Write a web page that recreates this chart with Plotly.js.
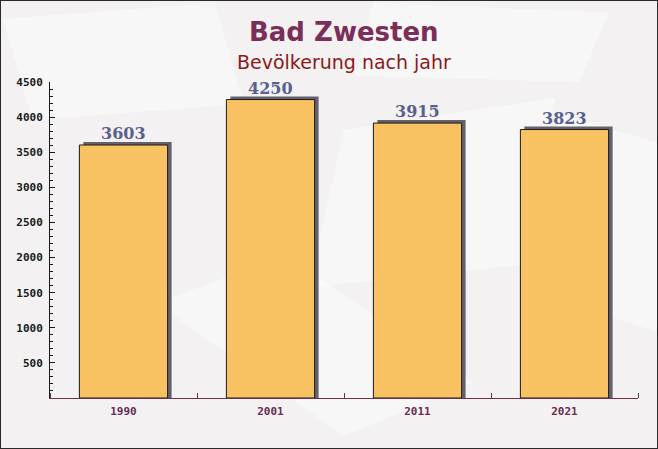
<!DOCTYPE html>
<html>
<head>
<meta charset="utf-8">
<script src="https://cdn.plot.ly/plotly-3.0.1.min.js"></script>
<style>
html,body{margin:0;padding:0;background:#f3f1f1;}
#wrap{width:658px;height:449px;box-sizing:border-box;border:1px solid #2a2a2a;background:#f3f1f1;}
#chart{width:656px;height:447px;}
</style>
</head>
<body>
<div id="wrap"><div id="chart"></div></div>
<script>
// Data
const categories = ["1990", "2001", "2011", "2021"];
const population = [3603, 4250, 3915, 3823];
const yTickValues = [500, 1000, 1500, 2000, 2500, 3000, 3500, 4000, 4500];
const yTickLabels = ["500", "1000", "1500", "2000", "2500", "3000", "3500", "4000", "4500"];
const titleText = "Bad Zwesten";
const subtitleText = "Bevölkerung nach jahr";

const plotHeightPx = 316, yMax = 4500;
const unitsPerPx = yMax / plotHeightPx;
const barWidth = 0.6;
const catPx = 147;
const shadowDx = 4 / catPx;      // horizontal shadow offset in category units
const shadowDy = 3 * unitsPerPx; // vertical shadow offset in data units
const idx = categories.map((c, i) => i);

const shadow = {
  type: 'bar',
  x: idx,
  y: population.map(v => v + shadowDy),
  width: barWidth,
  offset: -barWidth / 2 + shadowDx,
  marker: {color: '#64616c', line: {width: 0}},
  hoverinfo: 'skip',
  showlegend: false
};
const bars = {
  type: 'bar',
  x: idx,
  y: population,
  width: barWidth,
  marker: {color: '#f8c263', line: {color: '#1a1a1a', width: 1}},
  showlegend: false
};

const annotations = idx.map(i => ({
  x: i, y: population[i] + shadowDy, xref: 'x', yref: 'y',
  text: String(population[i]), showarrow: false,
  yanchor: 'bottom', yshift: -3,
  font: {family: 'DejaVu Serif', size: 16, color: '#58608f', weight: 700}
}));
annotations.push({
  x: 0.5, y: (316 - (31 - 81)) / 316, xref: 'paper', yref: 'paper',
  text: '<b>' + titleText + '</b>', showarrow: false, xanchor: 'center', yanchor: 'middle',
  font: {family: 'DejaVu Sans', size: 26, color: '#7b2e57'}
});
annotations.push({
  x: 0.5, y: (316 - (61 - 81)) / 316, xref: 'paper', yref: 'paper',
  text: subtitleText, showarrow: false, xanchor: 'center', yanchor: 'middle',
  font: {family: 'DejaVu Sans', size: 19, color: '#8b1a1a'}
});

// faint decorative background panels (paper coordinates)
const deco = [
  'M -0.08 1.2 L 0.28 1.25 L 0.33 0.93 L -0.03 0.88 Z',
  'M 0.5 0.85 L 0.86 0.95 L 0.8 0.42 L 0.44 0.35 Z',
  'M 0.18 0.3 L 0.5 -0.12 L 0.72 0.05 L 0.4 0.45 Z',
  'M 0.86 0.9 L 1.05 0.8 L 1.05 0.2 L 0.88 0.3 Z',
  'M 0.55 1.25 L 0.95 1.22 L 0.9 1.0 L 0.52 1.02 Z'
].map(p => ({type: 'path', xref: 'paper', yref: 'paper', path: p, layer: 'below',
  fillcolor: 'rgba(255,255,255,0.45)', line: {width: 0}}));

const layout = {
  width: 656, height: 447,
  margin: {l: 49, r: 19, t: 81, b: 50},
  paper_bgcolor: '#f3f1f1',
  plot_bgcolor: 'rgba(0,0,0,0)',
  barmode: 'overlay',
  xaxis: {
    range: [-0.5, 3.5],
    tickmode: 'array', tickvals: idx, ticktext: categories,
    showline: true, linecolor: '#6b3050', linewidth: 1,
    ticks: '', ticklabelstandoff: 3,
    minor: {tickmode: 'array', tickvals: [-0.5, 0.5, 1.5, 2.5, 3.5], ticks: 'inside', ticklen: 5, tickcolor: '#6b3050', showgrid: false},
    showgrid: false, zeroline: false,
    tickfont: {family: 'DejaVu Sans Mono', size: 11, color: '#6b2c55', weight: 700}
  },
  yaxis: {
    range: [0, yMax],
    showline: true, linecolor: '#1a1a1a', linewidth: 1,
    tickmode: 'array', tickvals: yTickValues, ticktext: yTickLabels,
    ticks: 'inside', ticklen: 5, tickcolor: '#1a1a1a', ticklabelstandoff: 4,
    minor: {dtick: 100, ticks: 'inside', ticklen: 3, tickcolor: '#1a1a1a', showgrid: false},
    showgrid: false, zeroline: false,
    tickfont: {family: 'DejaVu Sans Mono', size: 11, color: '#1a1a1a', weight: 700}
  },
  shapes: deco,
  annotations: annotations
};

Plotly.newPlot('chart', [shadow, bars], layout, {displayModeBar: false, staticPlot: true});
</script>
</body>
</html>
